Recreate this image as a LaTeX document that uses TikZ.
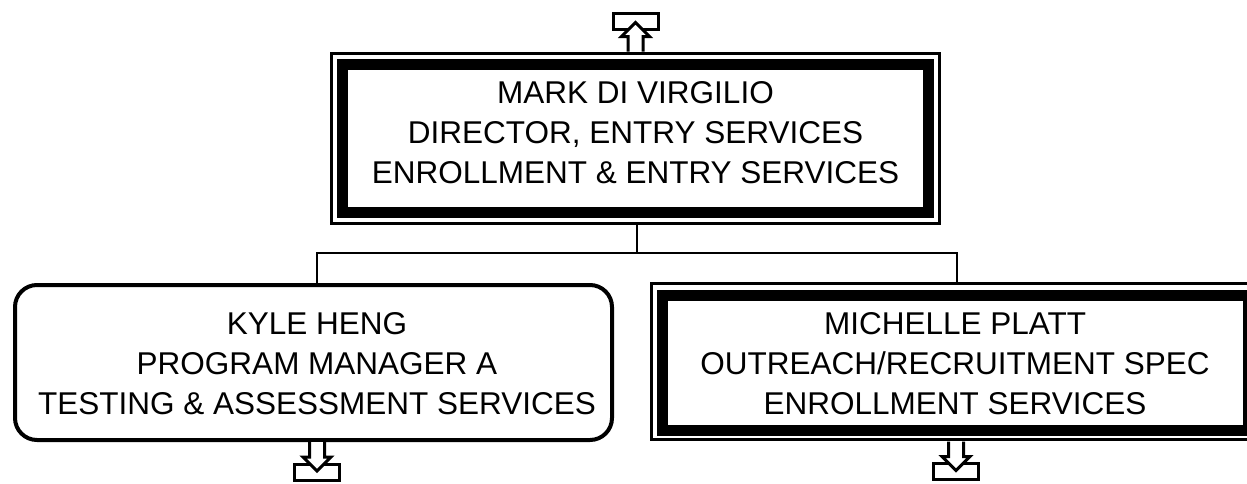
\documentclass[tikz,border=0pt]{standalone}
\usepackage{fontspec}
\setmainfont{Liberation Sans}
\begin{document}
\begin{tikzpicture}[x=1pt,y=-1pt,
  frame/.style={draw,line width=3pt,fill=white,inner sep=0pt,outer sep=0pt},
  roundbox/.style={draw,line width=4pt,fill=white,rounded corners=22pt,inner sep=0pt,outer sep=0pt},
  txt/.style={align=center,inner sep=0pt,font=\fontsize{31.5}{40}\selectfont},
  band/.style={line width=11pt},
  wire/.style={line width=2pt},
  offpage/.pic={
    \draw[line width=3pt,fill=white] (-22.5,24) rectangle (22.5,40);
    \draw[line width=3pt,fill=white,line join=miter] (-7.5,2) -- (-7.5,17) -- (-14,17) -- (0,31) -- (14,17) -- (7.5,17) -- (7.5,2);
  }]
\useasboundingbox (0,0) rectangle (1247,483);
\clip (0,0) rectangle (1247,483);

% top box
\node[frame,minimum width=608pt,minimum height=170pt] (dir) at (635.5,138.5) {};
\draw[band] ([shift={(11,11)}]dir.north west) rectangle ([shift={(-11.5,-11)}]dir.south east);
\node[txt] (dirt) at (635.5,133) {MARK DI VIRGILIO\\DIRECTOR, ENTRY SERVICES\\ENROLLMENT \& ENTRY SERVICES};

% left box
\node[roundbox,minimum width=597pt,minimum height=155pt] (kh) at (313.5,362.5) {};
\node[txt] (kht) at (317,364) {KYLE HENG\\PROGRAM MANAGER A\\TESTING \& ASSESSMENT SERVICES};

% right box
\node[frame,minimum width=611pt,minimum height=156pt] (mp) at (957,361.5) {};
\draw[band] ([shift={(11,12)}]mp.north west) rectangle ([shift={(-14,-9.5)}]mp.south east);
\node[txt] (mpt) at (955,364) {MICHELLE PLATT\\OUTREACH/RECRUITMENT SPEC\\ENROLLMENT SERVICES};

% connectors
\draw[wire] ([xshift=1.5pt]dir.south) -- ([xshift=1.5pt]dir.south |- 0,253) coordinate (j);
\draw[wire] ([xshift=3.5pt]kh.north) |- (j) -| (mp.north);

% off-page symbols
\pic[yscale=-1] at (dir.north) {offpage};
\pic at ([xshift=3.5pt]kh.south) {offpage};
\pic at ([xshift=-1pt]mp.south) {offpage};
\end{tikzpicture}
\end{document}
